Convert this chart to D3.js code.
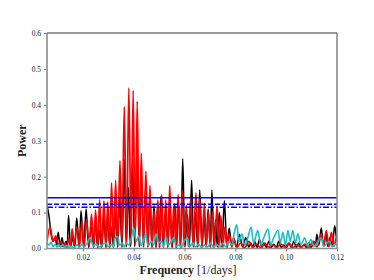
<!DOCTYPE html>
<html>
<head>
<meta charset="utf-8">
<script src="https://cdn.jsdelivr.net/npm/d3@7"></script>
<style>
  body { margin: 0; background: #fff; }
  svg { display: block; }
  .tick text { font-family: "Liberation Serif", "DejaVu Serif", serif; font-size: 7.5px; fill: #222; }
</style>
</head>
<body>
<svg id="chart" width="374" height="280"></svg>
<script>
// frequency [1/days] and power, knots (peaks & troughs)
const blackFreq = [0.0059,0.0067,0.0075,0.0083,0.0091,0.0097,0.0103,0.0111,0.0118,0.0126,0.0134,0.0138,0.0144,0.0152,0.0160,0.0168,0.0176,0.0186,0.0193,0.0203,0.0213,0.0223,0.0233,0.0242,0.0250,0.0258,0.0266,0.0274,0.0283,0.0291,0.0298,0.0306,0.0313,0.0321,0.0329,0.0337,0.0345,0.0354,0.0363,0.0371,0.0379,0.0387,0.0395,0.0404,0.0413,0.0422,0.0430,0.0439,0.0447,0.0456,0.0464,0.0472,0.0480,0.0488,0.0495,0.0501,0.0507,0.0517,0.0525,0.0534,0.0542,0.0552,0.0562,0.0569,0.0576,0.0585,0.0593,0.0602,0.0611,0.0619,0.0628,0.0636,0.0643,0.0652,0.0660,0.0669,0.0677,0.0685,0.0693,0.0701,0.0708,0.0716,0.0722,0.0729,0.0737,0.0747,0.0757,0.0767,0.0776,0.0786,0.0793,0.0805,0.0816,0.0829,0.0841,0.0853,0.0861,0.0868,0.0876,0.0886,0.0895,0.0904,0.0912,0.0922,0.0932,0.0941,0.0951,0.0961,0.0971,0.0981,0.0991,0.1001,0.1011,0.1020,0.1030,0.1040,0.1050,0.1060,0.1070,0.1080,0.1089,0.1099,0.1109,0.1115,0.1121,0.1129,0.1138,0.1147,0.1157,0.1164,0.1172,0.1181,0.1191,0.1200,0.1204];
const blackPower = [0.12,0.09,0.04,0.02,0.03,0.01,0.045,0.005,0.03,0.005,0.02,0.005,0.092,0.005,0.03,0.003,0.085,0.003,0.105,0.003,0.11,0.003,0.06,0.003,0.08,0.003,0.05,0.003,0.09,0.003,0.10,0.003,0.06,0.003,0.10,0.003,0.14,0.003,0.248,0.005,0.17,0.005,0.25,0.005,0.265,0.005,0.20,0.004,0.17,0.004,0.14,0.003,0.12,0.003,0.13,0.003,0.145,0.003,0.10,0.003,0.11,0.003,0.124,0.003,0.13,0.003,0.25,0.005,0.095,0.004,0.19,0.004,0.10,0.004,0.163,0.004,0.09,0.004,0.11,0.004,0.163,0.004,0.08,0.004,0.10,0.004,0.133,0.004,0.057,0.004,0.03,0.004,0.04,0.004,0.03,0.004,0.015,0.003,0.02,0.003,0.025,0.003,0.015,0.003,0.02,0.003,0.012,0.003,0.02,0.003,0.01,0.003,0.015,0.003,0.02,0.003,0.015,0.003,0.01,0.003,0.015,0.003,0.02,0.008,0.04,0.01,0.057,0.008,0.04,0.006,0.03,0.006,0.063,0.02,0.04];

const redFreq = [0.0059,0.0071,0.0083,0.0093,0.0103,0.0113,0.0122,0.0130,0.0138,0.0144,0.0152,0.0158,0.0166,0.0176,0.0186,0.0196,0.0205,0.0215,0.0225,0.0234,0.0243,0.0250,0.0259,0.0266,0.0274,0.0283,0.0291,0.0298,0.0306,0.0313,0.0321,0.0329,0.0337,0.0346,0.0354,0.0363,0.0372,0.0381,0.0390,0.0398,0.0406,0.0414,0.0422,0.0430,0.0439,0.0448,0.0456,0.0464,0.0472,0.0480,0.0487,0.0495,0.0503,0.0510,0.0518,0.0526,0.0534,0.0542,0.0550,0.0558,0.0566,0.0575,0.0583,0.0591,0.0599,0.0607,0.0615,0.0624,0.0634,0.0645,0.0653,0.0660,0.0669,0.0678,0.0686,0.0694,0.0702,0.0711,0.0718,0.0728,0.0735,0.0743,0.0751,0.0759,0.0768,0.0776,0.0786,0.0795,0.0805,0.0821,0.0837,0.0853,0.0868,0.0884,0.0900,0.0916,0.0932,0.0947,0.0963,0.0979,0.0995,0.1011,0.1026,0.1042,0.1058,0.1074,0.1089,0.1105,0.1121,0.1137,0.1147,0.1158,0.1168,0.1178,0.1188,0.1198,0.1204];
const redPower = [0.02,0.06,0.02,0.035,0.01,0.02,0.005,0.015,0.003,0.03,0.005,0.055,0.01,0.06,0.005,0.075,0.005,0.08,0.005,0.095,0.005,0.107,0.005,0.135,0.003,0.133,0.003,0.13,0.003,0.183,0.005,0.19,0.005,0.245,0.01,0.395,0.01,0.447,0.01,0.44,0.01,0.41,0.01,0.265,0.005,0.215,0.005,0.175,0.003,0.105,0.003,0.135,0.003,0.15,0.003,0.135,0.003,0.175,0.003,0.12,0.003,0.15,0.005,0.16,0.005,0.12,0.005,0.14,0.005,0.155,0.005,0.14,0.005,0.126,0.005,0.10,0.003,0.103,0.003,0.118,0.003,0.09,0.003,0.06,0.003,0.04,0.005,0.025,0.003,0.015,0.002,0.02,0.003,0.012,0.002,0.015,0.003,0.01,0.002,0.012,0.003,0.015,0.002,0.01,0.003,0.012,0.003,0.02,0.004,0.04,0.008,0.05,0.005,0.045,0.006,0.03,0.02];

const cyanFreq = [0.0059,0.0067,0.0075,0.0083,0.0091,0.0099,0.0107,0.0114,0.0122,0.0130,0.0138,0.0146,0.0154,0.0162,0.0170,0.0178,0.0186,0.0197,0.0205,0.0217,0.0229,0.0241,0.0253,0.0264,0.0276,0.0291,0.0300,0.0312,0.0320,0.0328,0.0337,0.0345,0.0355,0.0363,0.0371,0.0381,0.0391,0.0400,0.0411,0.0420,0.0430,0.0438,0.0446,0.0458,0.0470,0.0478,0.0488,0.0499,0.0509,0.0517,0.0527,0.0537,0.0545,0.0558,0.0568,0.0580,0.0588,0.0598,0.0611,0.0620,0.0632,0.0643,0.0655,0.0667,0.0679,0.0691,0.0703,0.0714,0.0726,0.0738,0.0750,0.0762,0.0774,0.0786,0.0795,0.0805,0.0815,0.0826,0.0837,0.0849,0.0862,0.0872,0.0888,0.0900,0.0912,0.0928,0.0939,0.0951,0.0967,0.0977,0.0987,0.0997,0.1007,0.1016,0.1026,0.1036,0.1046,0.1058,0.1073,0.1084,0.1097,0.1109,0.1121,0.1137,0.1149,0.1161,0.1171,0.1180,0.1192,0.1204];
const cyanPower = [0.015,0.01,0.018,0.005,0.012,0.004,0.01,0.005,0.01,0.003,0.008,0.003,0.006,0.002,0.005,0.01,0.003,0.012,0.004,0.015,0.03,0.008,0.012,0.004,0.01,0.015,0.005,0.012,0.004,0.03,0.033,0.01,0.015,0.004,0.015,0.01,0.03,0.057,0.02,0.035,0.008,0.02,0.038,0.008,0.02,0.01,0.04,0.015,0.02,0.006,0.033,0.01,0.015,0.03,0.006,0.01,0.003,0.02,0.03,0.005,0.015,0.004,0.012,0.003,0.01,0.004,0.015,0.003,0.012,0.004,0.015,0.005,0.02,0.01,0.04,0.066,0.02,0.04,0.008,0.03,0.06,0.015,0.05,0.01,0.03,0.054,0.01,0.03,0.05,0.015,0.045,0.01,0.05,0.02,0.05,0.015,0.04,0.01,0.03,0.008,0.025,0.006,0.015,0.03,0.006,0.015,0.02,0.005,0.012,0.008];

// significance levels
const levelValues = [0.141, 0.123, 0.115];
const levelDash = ["none", "5,2", "6,2,1.5,2"];

const xTicks = [0.02, 0.04, 0.06, 0.08, 0.10, 0.12];
const yTicks = [0.0, 0.1, 0.2, 0.3, 0.4, 0.5, 0.6];

const margin = {top: 33, right: 37, bottom: 32, left: 47};
const width = 374, height = 280;

const svg = d3.select('#chart');

const x = d3.scaleLinear()
  .domain([0.0059, 0.12])
  .range([margin.left, width - margin.right]);

const y = d3.scaleLinear()
  .domain([0, 0.6])
  .range([height - margin.bottom + 0.5, margin.top]);

const plot = svg.append('g');

svg.append('clipPath').attr('id', 'clip')
  .append('rect')
  .attr('x', margin.left)
  .attr('y', margin.top)
  .attr('width', width - margin.left - margin.right)
  .attr('height', height - margin.top - margin.bottom);

const line = d3.line()
  .x(d => x(d[0]))
  .y(d => y(d[1]))
  .curve(d3.curveCatmullRom.alpha(0.5));

// black underneath, red over it, cyan on top
const series = [
  {f: blackFreq, p: blackPower, colour: '#000000', w: 1.5},
  {f: redFreq, p: redPower, colour: '#ff0000', w: 1.7},
  {f: cyanFreq, p: cyanPower, colour: '#1cbfbf', w: 1.6},
];

series.forEach(s => {
  plot.append('path')
    .datum(d3.zip(s.f, s.p))
    .attr('d', line)
    .attr('fill', 'none')
    .attr('stroke', s.colour)
    .attr('stroke-width', s.w)
    .attr('stroke-linejoin', 'round')
    .attr('clip-path', 'url(#clip)');
});

// horizontal levels
levelValues.forEach((v, i) => {
  plot.append('line')
    .attr('x1', x.range()[0])
    .attr('x2', x.range()[1])
    .attr('y1', y(v))
    .attr('y2', y(v))
    .attr('stroke', '#0000ff')
    .attr('stroke-width', 1.5)
    .attr('stroke-dasharray', levelDash[i]);
});

// axes
const xAxis = svg.append('g')
  .attr('transform', `translate(0, ${y(0)})`)
  .call(d3.axisBottom(x).tickValues(xTicks).tickFormat(d3.format('.2f')).tickSize(3).tickPadding(3));

const yAxis = svg.append('g')
  .attr('transform', `translate(${margin.left}, 0)`)
  .call(d3.axisLeft(y).tickValues(yTicks).tickFormat(d3.format('.1f')).tickSize(3).tickPadding(3));

[xAxis, yAxis].forEach(a => {
  a.select('.domain').remove();
  a.selectAll('.tick line').attr('stroke', '#555').attr('stroke-width', 0.8);
});

// spines
const x0 = x.range()[0], x1 = x.range()[1], yb = y(0), yt = y.range()[1];
svg.append('line').attr('x1', x0).attr('x2', x1).attr('y1', yt).attr('y2', yt)
  .attr('stroke', '#333').attr('stroke-width', 1);
svg.append('line').attr('x1', x0).attr('x2', x0).attr('y1', yt).attr('y2', yb)
  .attr('stroke', '#8c8c8c').attr('stroke-width', 1.6);
svg.append('line').attr('x1', x1).attr('x2', x1).attr('y1', yt).attr('y2', yb)
  .attr('stroke', '#8c8c8c').attr('stroke-width', 1.6);
svg.append('line').attr('x1', x0).attr('x2', x1).attr('y1', yb).attr('y2', yb)
  .attr('stroke', '#8c8c8c').attr('stroke-width', 1.6);

// axis labels
const xlabel = svg.append('text')
  .attr('x', 188)
  .attr('y', 274)
  .attr('text-anchor', 'middle')
  .style('font-family', '"Liberation Serif", "DejaVu Serif", serif')
  .style('font-size', '12px')
  .style('fill', '#222');
xlabel.append('tspan').style('font-weight', 'bold').text('Frequency');
xlabel.append('tspan').text(' [1/days]');

svg.append('text')
  .attr('transform', `translate(26, ${(yt + yb) / 2}) rotate(-90)`)
  .attr('text-anchor', 'middle')
  .style('font-family', '"Liberation Serif", "DejaVu Serif", serif')
  .style('font-size', '12px')
  .style('font-weight', 'bold')
  .style('fill', '#222')
  .text('Power');
</script>
</body>
</html>
